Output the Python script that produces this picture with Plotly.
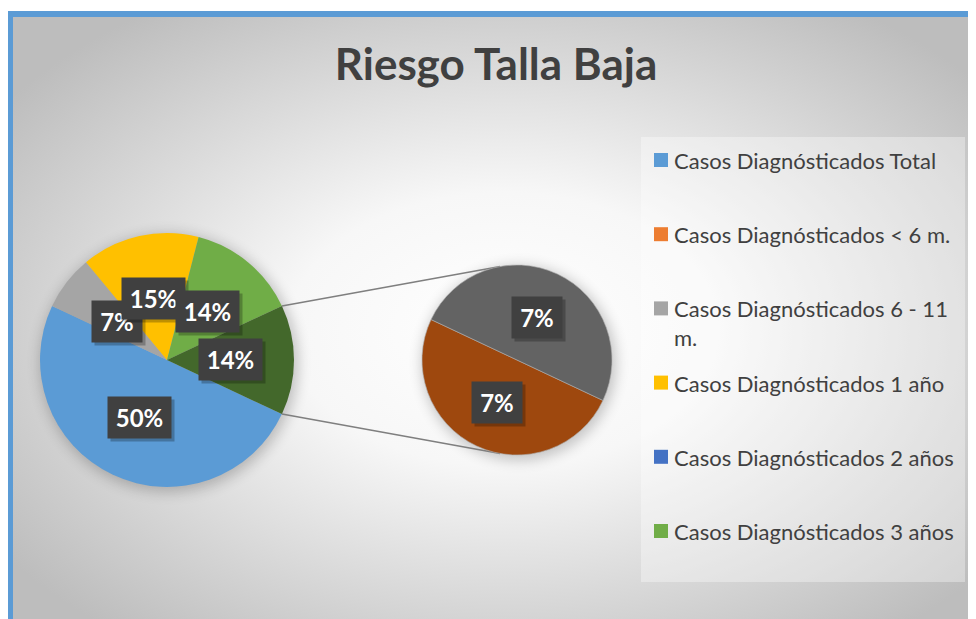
import base64
import math
import textwrap
import plotly.graph_objects as go

# page body has an 8px margin: figure is placed at (8, 8) in the window
OFF = 8
W, H = 976 - OFF, 619 - OFF

# ---------------- data ----------------
title = "Riesgo Talla Baja"
categories = [
    "Casos Diagnósticados Total",
    "Casos Diagnósticados < 6 m.",
    "Casos Diagnósticados 6 - 11 m.",
    "Casos Diagnósticados 1 año",
    "Casos Diagnósticados 2 años",
    "Casos Diagnósticados 3 años",
]
main_values = [50, 0, 7, 15, 0, 14]          # % of all cases
other_name = "Otros"
other_labels = ["Otros (a)", "Otros (b)"]
other_values = [7, 7]

# ---------------- style ----------------
cat_colors = ["#5B9BD5", "#ED7D31", "#A5A5A5", "#FFC000", "#4472C4", "#70AD47"]
other_slice_color = "#43682B"
other_colors = ["#9E480E", "#636363"]
FONT = "Lato"
TXT = "#404040"

# geometry in window pixels
MAIN_C, MAIN_R = (167, 360), 127
SEC_C, SEC_R = (517, 360), 95


def px(x, y):
    return (x - OFF) / W, 1 - (y - OFF) / H


def domain(c, r):
    xa, ya = px(c[0] - r, c[1] + r)
    xb, yb = px(c[0] + r, c[1] - r)
    return dict(x=[xa, xb], y=[ya, yb])


total = sum(main_values) + sum(other_values)
other_sum = sum(other_values)
rotation = 90 + (other_sum / total) * 180   # other-slice centred at 3 o'clock

main_labels = categories + [other_name]
main_vals = main_values + [other_sum]
main_cols = cat_colors + [other_slice_color]

fig = go.Figure()
fig.add_trace(go.Pie(
    labels=main_labels, values=main_vals, sort=False, direction="clockwise",
    rotation=rotation, marker=dict(colors=main_cols, line=dict(width=0)),
    textinfo="none", hoverinfo="label+percent", showlegend=False,
    domain=domain(MAIN_C, MAIN_R), name="main"))
fig.add_trace(go.Pie(
    labels=other_labels, values=other_values, sort=False, direction="clockwise",
    rotation=rotation, marker=dict(colors=other_colors, line=dict(width=0.6, color="#B0B0B0")),
    textinfo="none", hoverinfo="label+value", showlegend=False,
    domain=domain(SEC_C, SEC_R), name="sec"))


# ---------------- data labels (boxes) ----------------
def slice_label_positions(vals, c, r, rot):
    s = sum(vals)
    ang = rot
    out = []
    for v in vals:
        span = 360 * v / s
        mid = math.radians(ang + span / 2)
        out.append((c[0] + 0.5 * r * math.sin(mid), c[1] - 0.5 * r * math.cos(mid)))
        ang += span
    return out


annotations = []
shapes = []


def add_box(xp, yp, text):
    w = 24 + 13 * len(text)
    sx, sy = px(xp + 3, yp + 3)
    annotations.append(dict(x=sx, y=sy, xref="paper", yref="paper", text=" ",
                            showarrow=False, width=w, height=41, borderpad=0,
                            bgcolor="rgba(0,0,0,0.25)", xanchor="center", yanchor="middle"))
    x, y = px(xp, yp)
    annotations.append(dict(x=x, y=y, xref="paper", yref="paper", text=f"<b>{text}</b>",
                            showarrow=False, width=w, height=41, borderpad=0,
                            bgcolor="#404040", xanchor="center", yanchor="middle",
                            font=dict(family=FONT, size=24, color="white")))


for v, (x, y) in zip(main_vals, slice_label_positions(main_vals, MAIN_C, MAIN_R, rotation)):
    if v > 0:
        add_box(x, y, f"{round(100 * v / total)}%")
for v, (x, y) in zip(other_values, slice_label_positions(other_values, SEC_C, SEC_R, rotation)):
    if v > 0:
        add_box(x, y, f"{round(100 * v / total)}%")

# ---------------- connector lines ----------------
a0 = math.radians(rotation + 360 * (1 - other_sum / total))
a1 = math.radians(rotation + 360)
p_top = (MAIN_C[0] + MAIN_R * math.sin(a0), MAIN_C[1] - MAIN_R * math.cos(a0))
p_bot = (MAIN_C[0] + MAIN_R * math.sin(a1), MAIN_C[1] - MAIN_R * math.cos(a1))


def tangent(p, c, r, upper):
    dx, dy = p[0] - c[0], -(p[1] - c[1])
    d = math.hypot(dx, dy)
    phi = math.atan2(dy, dx)
    al = math.acos(r / d)
    cands = [(c[0] + r * math.cos(phi + s * al), c[1] - r * math.sin(phi + s * al)) for s in (1, -1)]
    return min(cands, key=lambda q: q[1]) if upper else max(cands, key=lambda q: q[1])


for p, up in ((p_top, True), (p_bot, False)):
    q = tangent(p, SEC_C, SEC_R, up)
    x0, y0 = px(*p)
    x1, y1 = px(*q)
    shapes.append(dict(type="line", xref="paper", yref="paper", x0=x0, y0=y0, x1=x1, y1=y1,
                       line=dict(color="#7F7F7F", width=1.6), layer="below"))

# ---------------- legend (manual) ----------------
LEG_BOX = (641, 137, 965, 582)
x0, y0 = px(LEG_BOX[0], LEG_BOX[1])
x1, y1 = px(LEG_BOX[2], LEG_BOX[3])
shapes.append(dict(type="rect", xref="paper", yref="paper", x0=x0, y0=y1, x1=x1, y1=y0,
                   fillcolor="rgba(255,255,255,0.35)", line=dict(width=0), layer="below"))
leg_top, leg_step = 160, 74.2
for i, (name, col) in enumerate(zip(categories, cat_colors)):
    yc = leg_top + i * leg_step
    sx0, sy0 = px(654, yc - 7)
    sx1, sy1 = px(668, yc + 7)
    shapes.append(dict(type="rect", xref="paper", yref="paper", x0=sx0, y0=sy1, x1=sx1, y1=sy0,
                       fillcolor=col, line=dict(width=0)))
    lines = textwrap.wrap(name, 28)
    tx, ty = px(672, yc - 15)
    annotations.append(dict(x=tx, y=ty, xref="paper", yref="paper", text="<br>".join(lines),
                            showarrow=False, xanchor="left", yanchor="top", align="left",
                            font=dict(family=FONT, size=22, color=TXT)))

# ---------------- background (gradient, frame, soft shadows) ----------------
def sv(x, y):
    return x - OFF, y - OFF


fx, fy = sv(10, 14)
mcx, mcy = sv(*MAIN_C)
scx, scy = sv(*SEC_C)
svg = f"""<svg xmlns='http://www.w3.org/2000/svg' width='{W}' height='{H}' viewBox='0 0 {W} {H}'>
<defs>
<radialGradient id='g' cx='0.5' cy='0.5' r='0.62'>
<stop offset='0' stop-color='#ffffff'/><stop offset='0.35' stop-color='#f7f7f7'/><stop offset='1' stop-color='#bdbdbd'/>
</radialGradient>
<filter id='b' x='-50%' y='-50%' width='200%' height='200%'><feGaussianBlur stdDeviation='7'/></filter>
</defs>
<rect x='0' y='0' width='{W}' height='{H}' fill='#ffffff'/>
<rect x='{fx}' y='{fy}' width='{W + 20}' height='{H + 20}' fill='url(#g)' stroke='#5B9BD5' stroke-width='6'/>
<circle cx='{mcx + 2}' cy='{mcy + 3}' r='{MAIN_R + 2}' fill='#000' opacity='0.22' filter='url(#b)'/>
<circle cx='{scx + 2}' cy='{scy + 3}' r='{SEC_R + 2}' fill='#000' opacity='0.22' filter='url(#b)'/>
</svg>"""
src = "data:image/svg+xml;base64," + base64.b64encode(svg.encode()).decode()

tx, ty = px(496, 65)
fig.update_layout(
    width=W, height=H, margin=dict(l=0, r=0, t=0, b=0),
    paper_bgcolor="white", plot_bgcolor="rgba(0,0,0,0)",
    showlegend=False,
    title=dict(text=f"<b>{title}</b>", x=tx, y=ty, xanchor="center", yanchor="middle",
               font=dict(family=FONT, size=44, color=TXT)),
    images=[dict(source=src, xref="paper", yref="paper", x=0, y=1, sizex=1, sizey=1,
                 xanchor="left", yanchor="top", sizing="stretch", layer="below")],
    shapes=shapes, annotations=annotations,
)
fig.write_html("out.html")
